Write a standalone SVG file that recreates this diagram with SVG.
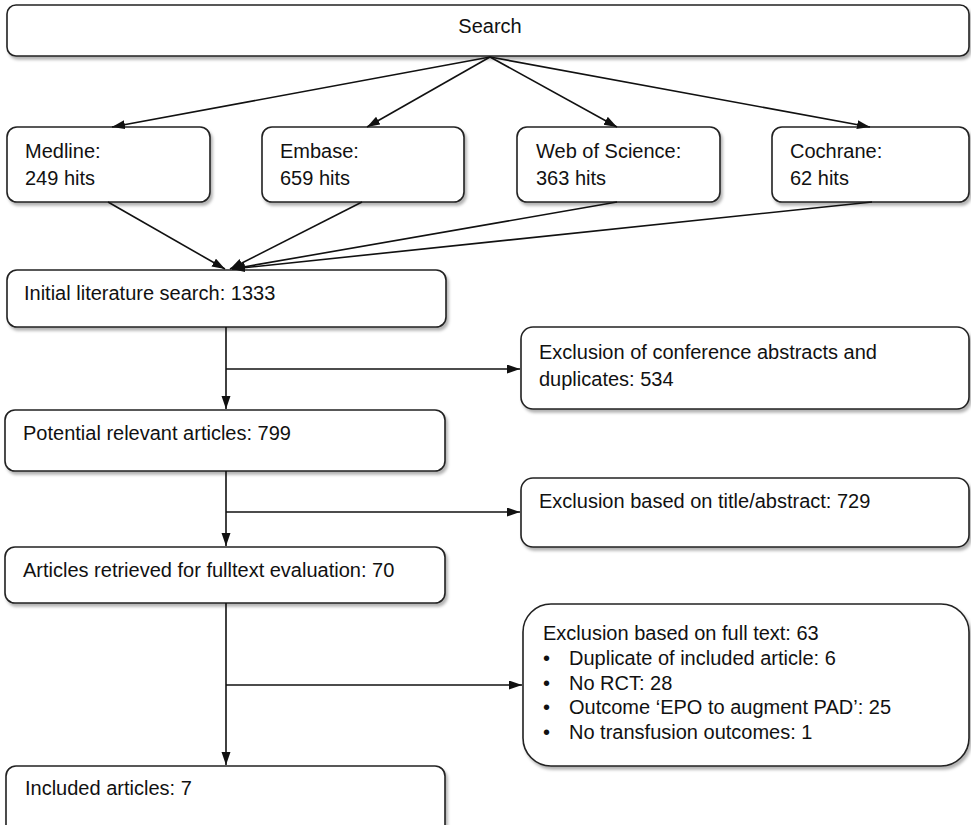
<svg xmlns="http://www.w3.org/2000/svg" width="971" height="825" viewBox="0 0 971 825">
<style>
.box{fill:#fff;stroke:#222;stroke-width:1.6;filter:url(#sh)}
.t{font-family:"Liberation Sans",Arial,sans-serif;font-size:20px;fill:#111}
.c{stroke:#111;stroke-width:1.6;fill:none}
.a{marker-end:url(#ah)}
</style>
<defs>
<filter id="sh" x="-5%" y="-10%" width="110%" height="130%">
<feDropShadow dx="2" dy="3" stdDeviation="1.5" flood-color="#000" flood-opacity="0.3"/>
</filter>
<marker id="ah" markerUnits="userSpaceOnUse" markerWidth="14" markerHeight="10" refX="13" refY="4.5" orient="auto">
<path d="M0,0 L13,4.5 L0,9 Z" fill="#111"/>
</marker>
</defs>
<rect width="971" height="825" fill="#fff"/>
<g id="search"><rect class="box" x="7" y="5" width="962" height="51" rx="9"/><text class="t" x="490" y="33" text-anchor="middle">Search</text></g>
<g id="medline"><rect class="box" x="7" y="127" width="203" height="75" rx="10"/><text class="t" x="25" y="158">Medline:</text><text class="t" x="25" y="185">249 hits</text></g>
<g id="embase"><rect class="box" x="262" y="127" width="202" height="75" rx="10"/><text class="t" x="280" y="158">Embase:</text><text class="t" x="280" y="185">659 hits</text></g>
<g id="wos"><rect class="box" x="517" y="127" width="203" height="75" rx="10"/><text class="t" x="536" y="158">Web of Science:</text><text class="t" x="536" y="185">363 hits</text></g>
<g id="cochrane"><rect class="box" x="772" y="127" width="197" height="75" rx="10"/><text class="t" x="790" y="158">Cochrane:</text><text class="t" x="790" y="185">62 hits</text></g>
<g id="initial"><rect class="box" x="7" y="270" width="439" height="57" rx="10"/><text class="t" x="24" y="300">Initial literature search: 1333</text></g>
<g id="excl1"><rect class="box" x="521" y="327" width="448" height="82" rx="12"/><text class="t" x="539" y="359">Exclusion of conference abstracts and</text><text class="t" x="539" y="386">duplicates: 534</text></g>
<g id="potential"><rect class="box" x="5" y="410" width="440" height="61" rx="10"/><text class="t" x="23" y="440">Potential relevant articles: 799</text></g>
<g id="excl2"><rect class="box" x="521" y="478" width="448" height="69" rx="12"/><text class="t" x="539" y="508">Exclusion based on title/abstract: 729</text></g>
<g id="fulltext"><rect class="box" x="5" y="547" width="440" height="56" rx="10"/><text class="t" x="23" y="577">Articles retrieved for fulltext evaluation: 70</text></g>
<g id="excl3"><rect class="box" x="523" y="604" width="446" height="162" rx="28"/>
<text class="t" x="543" y="640">Exclusion based on full text: 63</text>
<text class="t" x="543" y="665">•</text><text class="t" x="569" y="665">Duplicate of included article: 6</text>
<text class="t" x="543" y="690">•</text><text class="t" x="569" y="690">No RCT: 28</text>
<text class="t" x="543" y="714">•</text><text class="t" x="569" y="714">Outcome ‘EPO to augment PAD’: 25</text>
<text class="t" x="543" y="739">•</text><text class="t" x="569" y="739">No transfusion outcomes: 1</text>
</g>
<g id="included"><rect class="box" x="6" y="766" width="439" height="70" rx="10"/><text class="t" x="25" y="795">Included articles: 7</text></g>
<g id="connectors">
<line class="c a" x1="490" y1="57" x2="112" y2="127"/>
<line class="c a" x1="490" y1="57" x2="367" y2="127"/>
<line class="c a" x1="490" y1="57" x2="617" y2="127"/>
<line class="c a" x1="490" y1="57" x2="870" y2="127"/>
<line class="c a" x1="108" y1="202" x2="225" y2="269"/>
<line class="c a" x1="362" y1="202" x2="230" y2="269"/>
<line class="c a" x1="617" y1="202" x2="232" y2="269"/>
<line class="c a" x1="872" y1="202" x2="232" y2="269"/>
<line class="c a" x1="226" y1="327" x2="226" y2="409"/>
<line class="c a" x1="226" y1="369" x2="520" y2="369"/>
<line class="c a" x1="226" y1="471" x2="226" y2="546"/>
<line class="c a" x1="226" y1="512" x2="520" y2="512"/>
<line class="c a" x1="226" y1="603" x2="226" y2="765"/>
<line class="c a" x1="226" y1="685" x2="522" y2="685"/>
</g>
</svg>
